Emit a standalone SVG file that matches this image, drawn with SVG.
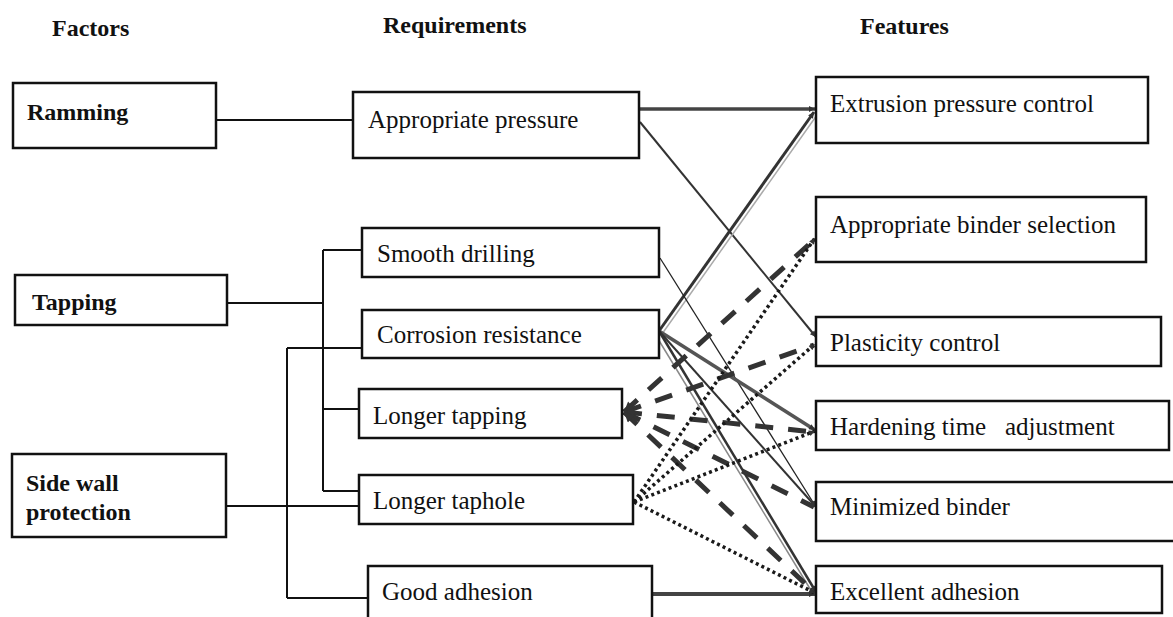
<svg xmlns="http://www.w3.org/2000/svg" width="1173" height="617" viewBox="0 0 1173 617">
<defs>
<style>
.box{fill:#fff;stroke:#111;stroke-width:2.5}
.hd{font-family:"Liberation Serif","Times New Roman",serif;font-weight:bold;font-size:24px;fill:#111}
.fb{font-family:"Liberation Serif","Times New Roman",serif;font-weight:bold;font-size:24px;fill:#111}
.t{font-family:"Liberation Serif","Times New Roman",serif;font-size:25px;fill:#111}
.lc{fill:none;stroke:#111;stroke-width:2}
.dash{fill:none;stroke:#333;stroke-width:5;stroke-dasharray:18 15}
.dot{fill:none;stroke:#1a1a1a;stroke-width:3.5;stroke-dasharray:3 3.2}
</style>
<marker id="ah" viewBox="0 0 10 10" refX="10" refY="5" markerWidth="8" markerHeight="6" markerUnits="userSpaceOnUse" orient="auto-start-reverse"><path d="M0,0 L10,5 L0,10 z" fill="#333"/></marker>
<marker id="ahL" viewBox="0 0 10 10" refX="10" refY="5" markerWidth="13" markerHeight="10" markerUnits="userSpaceOnUse" orient="auto-start-reverse"><path d="M0,0 L10,5 L0,10 z" fill="#333"/></marker>
</defs>
<rect width="1173" height="617" fill="#fff"/>

<g id="headers">
<text class="hd" x="52" y="36">Factors</text>
<text class="hd" x="383" y="33">Requirements</text>
<text class="hd" x="860" y="34">Features</text>
</g>

<g id="connectors">
<path class="lc" d="M216,120 H353"/>
<path class="lc" d="M227,303 H323"/>
<path class="lc" d="M323,250 V491"/>
<path class="lc" d="M323,250 H362"/>
<path class="lc" d="M323,409 H359"/>
<path class="lc" d="M323,491 H359"/>
<path class="lc" d="M287,348 V598"/>
<path class="lc" d="M287,348 H362"/>
<path class="lc" d="M287,598 H368"/>
<path class="lc" d="M226,506 H359"/>

<path d="M639,109 L815,109" stroke="#444" stroke-width="3.5" fill="none" marker-end="url(#ah)"/>
<path d="M640,122 L816,337" stroke="#333" stroke-width="2" fill="none" marker-end="url(#ah)"/>
<path d="M662,334 L817,115" stroke="#aaa" stroke-width="1.5" fill="none"/>
<path d="M659,331 L814,112" stroke="#333" stroke-width="3" fill="none" marker-end="url(#ah)"/>
<path d="M660,258 L816,507" stroke="#222" stroke-width="1.3" fill="none" marker-end="url(#ah)"/>
<path d="M659,331 L815,430" stroke="#555" stroke-width="3.5" fill="none" marker-end="url(#ah)"/>
<path d="M659,331 L816,507" stroke="#333" stroke-width="2" fill="none" marker-end="url(#ah)"/>
<path d="M655,334 L812,592" stroke="#888" stroke-width="1.5" fill="none"/>
<path d="M659,331 L816,592" stroke="#333" stroke-width="2.5" fill="none" marker-end="url(#ah)"/>
<path d="M652,594 L815,594" stroke="#444" stroke-width="4" fill="none" marker-end="url(#ah)"/>

<path class="dash" d="M624,412 L814,240" marker-start="url(#ahL)"/>
<path class="dash" d="M624,412 L814,345" marker-start="url(#ahL)"/>
<path class="dash" d="M624,412 L814,432" marker-start="url(#ahL)"/>
<path class="dash" d="M624,412 L814,507" marker-start="url(#ahL)"/>
<path class="dash" d="M624,412 L814,592" marker-start="url(#ahL)"/>

<path class="dot" d="M634,502 L815,238" marker-end="url(#ah)"/>
<path class="dot" d="M634,502 L815,344" marker-end="url(#ah)"/>
<path class="dot" d="M634,502 L815,431" marker-end="url(#ah)"/>
<path class="dot" d="M634,502 L815,593" marker-end="url(#ah)"/>
</g>

<g id="ramming"><rect class="box" x="13" y="83" width="203" height="65"/><text class="fb" x="27" y="120">Ramming</text></g>
<g id="tapping"><rect class="box" x="15" y="275" width="212" height="50"/><text class="fb" x="32" y="310">Tapping</text></g>
<g id="sidewall"><rect class="box" x="12" y="454" width="214" height="83"/><text class="fb" x="26" y="491">Side wall</text><text class="fb" x="26" y="520">protection</text></g>

<g id="appropriate-pressure"><rect class="box" x="353" y="92" width="286" height="66"/><text class="t" x="368" y="128">Appropriate pressure</text></g>
<g id="smooth-drilling"><rect class="box" x="362" y="228" width="297" height="49"/><text class="t" x="377" y="262">Smooth drilling</text></g>
<g id="corrosion-resistance"><rect class="box" x="362" y="310" width="297" height="48"/><text class="t" x="377" y="343">Corrosion resistance</text></g>
<g id="longer-tapping"><rect class="box" x="359" y="389" width="263" height="49"/><text class="t" x="373" y="424">Longer tapping</text></g>
<g id="longer-taphole"><rect class="box" x="359" y="475" width="274" height="49"/><text class="t" x="373" y="509">Longer taphole</text></g>
<g id="good-adhesion"><rect class="box" x="368" y="566" width="284" height="60"/><text class="t" x="382" y="600">Good adhesion</text></g>

<g id="extrusion"><rect class="box" x="816" y="77" width="332" height="66"/><text class="t" x="830" y="112">Extrusion pressure control</text></g>
<g id="binder-selection"><rect class="box" x="816" y="197" width="330" height="65"/><text class="t" x="830" y="233">Appropriate binder selection</text></g>
<g id="plasticity"><rect class="box" x="816" y="317" width="345" height="49"/><text class="t" x="830" y="351">Plasticity control</text></g>
<g id="hardening"><rect class="box" x="816" y="401" width="353" height="49"/><text class="t" x="830" y="435" xml:space="preserve" style="white-space:pre">Hardening time   adjustment</text></g>
<g id="minimized-binder"><rect class="box" x="816" y="482" width="370" height="59"/><text class="t" x="830" y="515">Minimized binder</text></g>
<g id="excellent-adhesion"><rect class="box" x="816" y="566" width="346" height="47"/><text class="t" x="830" y="600">Excellent adhesion</text></g>
</svg>
